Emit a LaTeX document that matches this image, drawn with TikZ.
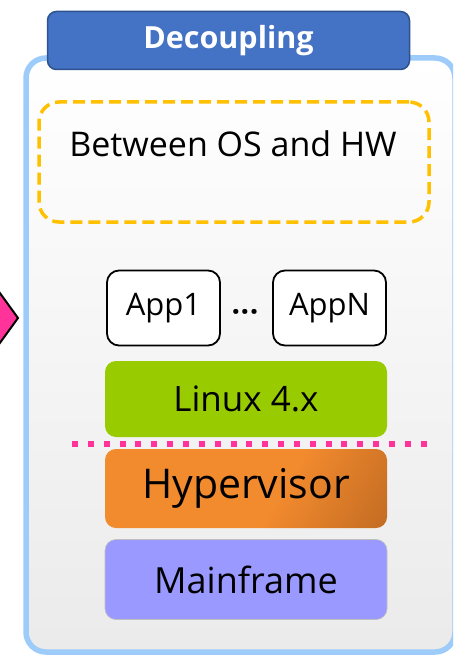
\documentclass[tikz,border=0pt]{standalone}
\usepackage{fontspec}
\setmainfont{Open Sans}
\definecolor{framec}{HTML}{9DCBFA}
\definecolor{titlec}{HTML}{4472C4}
\definecolor{titleb}{HTML}{2F528F}
\definecolor{dashc}{HTML}{FFC000}
\definecolor{linuxc}{HTML}{99CC00}
\definecolor{hyperc}{HTML}{F28A2E}
\definecolor{hyperd}{HTML}{A65A1C}
\definecolor{mainc}{HTML}{9999FF}
\definecolor{pinkc}{HTML}{FF3399}
\pgfdeclarehorizontalshading{hypershade}{100bp}{color(0bp)=(hyperc); color(58bp)=(hyperc); color(100bp)=(hyperd)}
\newcommand{\fsz}[1]{\fontsize{#1}{#1}\selectfont}
\begin{document}
\begin{tikzpicture}[x=1pt,y=-1pt,
  layer/.style={rounded corners=11pt, minimum width=282pt, anchor=center, inner sep=0pt},
  appbox/.style={draw=black, line width=1.8pt, fill=white, rounded corners=12pt, minimum width=113pt, minimum height=75pt, inner sep=0pt, font=\fsz{31}},
]
\useasboundingbox (0,0) rectangle (453,655);
\clip (0,0) rectangle (453,655);
% left arrow
\draw[fill=pinkc, draw=black, line width=2pt] (-40,238) -- (18,318) -- (-40,398) -- cycle;
% outer frame
\draw[line width=5.5pt, draw=framec, rounded corners=20pt, top color=white, bottom color=black!8] (26,58) rectangle (455,652);
% title
\node[draw=titleb, line width=1.5pt, fill=titlec, rounded corners=9pt, minimum width=362pt, minimum height=58pt, inner sep=0pt, text=white, font=\bfseries\fsz{30.5}] (title) at (228.5,40.5) {Decoupling};
% dashed box
\node[draw=dashc, line width=3.5pt, dash pattern=on 12pt off 6pt, rounded corners=20pt, minimum width=390pt, minimum height=120pt, inner sep=0pt] (between) at (234,162) {};
\node[font=\fsz{34}, inner sep=0pt] (betweentext) at (233,144) {Between OS and HW};
% apps
\node[appbox] (app1) at (163.5,308) {App1};
\node[appbox] (appN) at (329.5,308) {AppN};
\node[font=\bfseries\fsz{30}, inner sep=0pt] (dots) at (245,316) {·\kern0.5pt·\kern0.5pt·};
% layers
\node[layer, fill=linuxc, minimum height=76pt, font=\fsz{35}] (linux) at (246,399) {Linux 4.x};
\path[draw=pinkc, line width=6pt, dash pattern=on 6pt off 9.85pt] (72,443.5) -- (430,443.5);
\node[layer, shading=hypershade, shading angle=-30, minimum height=79pt, font=\fsz{41}] (hyper) at (246,488.5) {Hypervisor};
\node[layer, fill=mainc, draw=black!25, line width=0.6pt, minimum height=80pt, font=\fsz{36}] (main) at (246,579.5) {Mainframe};
\end{tikzpicture}
\end{document}
